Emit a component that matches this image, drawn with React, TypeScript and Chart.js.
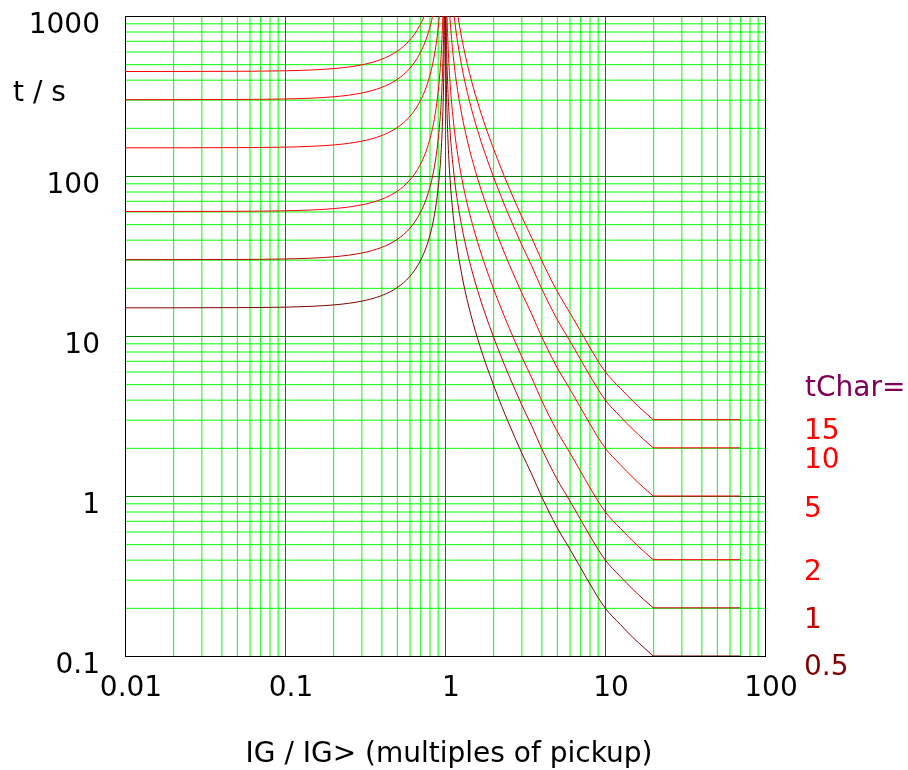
import React, { useEffect, useRef } from "react";
import { Chart, registerables } from "chart.js";

Chart.register(...registerables);

// IG / IG> (multiples of pickup); the last two points form the flat tail (20 .. 70)
const IG = [
  0.01, 0.02, 0.05, 0.1, 0.15, 0.2, 0.25, 0.3, 0.35, 0.4, 0.45, 0.5, 0.55, 0.6, 0.65, 0.7, 0.75, 0.8, 0.85, 0.9, 0.93,
  0.95, 0.97, 0.98, 0.99, 0.995, 1.005, 1.01, 1.02, 1.03, 1.05, 1.08, 1.1, 1.15, 1.2, 1.3, 1.4, 1.5, 1.6, 1.7, 1.8, 2,
  2.25, 2.5, 3, 3.5, 4, 5, 6, 7, 8, 10, 12.5, 15, 17.5, 20, 70,
];

// t / s for each tChar
const T_05 = [
  15.0, 15.0, 15.04, 15.15, 15.35, 15.63, 16.0, 16.49, 17.1, 17.86, 18.81, 20, 21.5, 23.44, 25.97, 29.41, 34.29, 41.67,
  54.05, 78.95, 111.0, 153.8, 253.8, 378.8, 753.8, 1504, 1496, 746.3, 371.3, 246.3, 146.3, 90.2, 71.4, 46.5, 34.1,
  21.75, 15.63, 12.0, 9.62, 7.94, 6.7, 5.0, 3.69, 2.86, 1.88, 1.355, 1.0, 0.64, 0.47, 0.36, 0.285, 0.2, 0.157, 0.13,
  0.113, 0.1, 0.1,
];
const T_1 = [
  30.0, 30.01, 30.08, 30.3, 30.69, 31.25, 32.0, 32.97, 34.19, 35.71, 37.62, 40, 43.01, 46.88, 51.95, 58.82, 68.57,
  83.33, 108.1, 157.9, 222.1, 307.7, 507.6, 757.6, 1507, 3008, 2993, 1493, 742.6, 492.6, 292.7, 180.3, 142.9, 93.0,
  68.2, 43.5, 31.25, 24.0, 19.23, 15.87, 13.39, 10.0, 7.38, 5.71, 3.76, 2.71, 2.0, 1.28, 0.94, 0.72, 0.57, 0.4, 0.313,
  0.26, 0.225, 0.2, 0.2,
];
const T_2 = [
  60.0, 60.02, 60.16, 60.6, 61.38, 62.5, 64.0, 65.94, 68.38, 71.42, 75.24, 80, 86.02, 93.76, 103.9, 117.6, 137.1,
  166.7, 216.2, 315.8, 444.2, 615.4, 1015, 1515, 3015, 6015, 5985, 2985, 1485, 985.2, 585.4, 360.6, 285.8, 186.0,
  136.4, 87.0, 62.5, 48.0, 38.46, 31.74, 26.78, 20.0, 14.76, 11.42, 7.52, 5.42, 4.0, 2.56, 1.88, 1.44, 1.14, 0.8,
  0.626, 0.52, 0.45, 0.4, 0.4,
];
const T_5 = [
  150.0, 150.05, 150.4, 151.5, 153.45, 156.25, 160.0, 164.85, 170.95, 178.55, 188.1, 200, 215.05, 234.4, 259.75,
  294.1, 342.85, 416.65, 540.5, 789.5, 1110.5, 1538.5, 2538, 3788, 7538, 15038, 14963, 7463, 3713, 2463, 1463.5,
  901.5, 714.5, 465, 341, 217.5, 156.25, 120, 96.15, 79.35, 66.95, 50, 36.9, 28.55, 18.8, 13.55, 10, 6.4, 4.7, 3.6,
  2.85, 2.0, 1.565, 1.3, 1.125, 1.0, 1.0,
];
const T_10 = [
  300, 300.1, 300.8, 303, 306.9, 312.5, 320.0, 329.7, 341.9, 357.1, 376.2, 400, 430.1, 468.8, 519.5, 588.2, 685.7,
  833.3, 1081, 1579, 2221, 3077, 5076, 7576, 15075, 30075, 29925, 14925, 7426, 4926, 2927, 1803, 1429, 930, 682, 435,
  312.5, 240, 192.3, 158.7, 133.9, 100, 73.8, 57.1, 37.6, 27.1, 20, 12.8, 9.4, 7.2, 5.7, 4.0, 3.13, 2.6, 2.25, 2.0,
  2.0,
];
const T_15 = [
  450, 450.15, 451.2, 454.5, 460.35, 468.75, 480.0, 494.55, 512.85, 535.65, 564.3, 600, 645.15, 703.2, 779.25, 882.3,
  1028.6, 1250, 1621.5, 2368.5, 3331.5, 4615.5, 7614, 11364, 22613, 45113, 44888, 22388, 11139, 7389, 4390.5, 2704.5,
  2143.5, 1395, 1023, 652.5, 468.75, 360, 288.45, 238.05, 200.85, 150, 110.7, 85.65, 56.4, 40.65, 30, 19.2, 14.1,
  10.8, 8.55, 6.0, 4.695, 3.9, 3.375, 3.0, 3.0,
];

const SERIES = [T_05, T_1, T_2, T_5, T_10, T_15];
const T_CHAR = ["0.5", "1", "2", "5", "10", "15"];
const CURVE_COLORS = ["#800000", "#c00000", "#ff0000", "#ff0000", "#ff0000", "#ff0000"];
const LABEL_COLORS = ["#800000", "#c00000", "#ff0000", "#ff0000", "#ff0000", "#ff0000"];
const LABEL_BASELINES = [675, 628, 580, 517, 468, 439];

const X_DECADES = [0.01, 0.1, 1, 10];
const Y_DECADES = [0.1, 1, 10, 100];
const MULTS = [1, 2, 3, 4, 5, 6, 7, 8, 9];

const buildTicks = (decades: number[], last: number) => {
  const out: number[] = [];
  decades.forEach((d) => MULTS.forEach((m) => out.push(Number((m * d).toPrecision(6)))));
  out.push(last);
  return out;
};
const X_TICKS = buildTicks(X_DECADES, 100);
const Y_TICKS = buildTicks(Y_DECADES, 1000);

const isDecade = (v: number) => Math.abs(Math.log10(v) - Math.round(Math.log10(v))) < 1e-9;
const FONT = "DejaVu Sans";

export default function App() {
  const ref = useRef<HTMLCanvasElement | null>(null);

  useEffect(() => {
    if (!ref.current) return;

    const gridPlugin = {
      id: "logGrid",
      beforeDatasetsDraw(chart: any) {
        const { ctx, chartArea: a, scales } = chart;
        const xs = scales.x;
        const ys = scales.y;
        ctx.save();
        ctx.lineWidth = 1;
        const drawSet = (major: boolean) => {
          ctx.strokeStyle = major ? "#008000" : "#00ff00";
          ctx.beginPath();
          X_TICKS.forEach((v) => {
            if (isDecade(v) !== major) return;
            const px = xs.getPixelForValue(v) + 0.5;
            ctx.moveTo(px, a.top);
            ctx.lineTo(px, a.bottom);
          });
          Y_TICKS.forEach((v) => {
            if (isDecade(v) !== major) return;
            const py = ys.getPixelForValue(v) + 0.5;
            ctx.moveTo(a.left, py);
            ctx.lineTo(a.right, py);
          });
          ctx.stroke();
        };
        drawSet(false);
        drawSet(true);
        ctx.strokeStyle = "#000";
        ctx.strokeRect(Math.round(a.left) + 0.5, Math.round(a.top) + 0.5, Math.round(a.right - a.left), Math.round(a.bottom - a.top));
        ctx.restore();
      },
    };

    const textPlugin = {
      id: "texts",
      afterDraw(chart: any) {
        const ctx = chart.ctx;
        ctx.save();
        ctx.font = `28px "${FONT}"`;
        ctx.textBaseline = "alphabetic";
        ctx.textAlign = "left";
        ctx.fillStyle = "#000";
        ctx.fillText("t / s", 13, 101);
        ctx.textAlign = "center";
        ctx.fillText("IG / IG> (multiples of pickup)", 449, 762);
        ctx.textAlign = "left";
        ctx.fillStyle = "#800055";
        ctx.fillText("tChar=", 805, 396);
        T_CHAR.forEach((t, i) => {
          ctx.fillStyle = LABEL_COLORS[i];
          ctx.fillText(t, 804, LABEL_BASELINES[i]);
        });
        ctx.restore();
      },
    };

    const n = IG.length;
    const curveSets = SERIES.map((s, i) => ({
      label: T_CHAR[i],
      data: IG.slice(0, n - 1).map((x, j) => ({ x, y: s[j] })),
      borderColor: CURVE_COLORS[i],
      borderWidth: 1,
      pointRadius: 0,
      cubicInterpolationMode: "monotone" as const,
      fill: false,
    }));
    const tailSets = SERIES.map((s, i) => ({
      label: T_CHAR[i] + " tail",
      data: IG.slice(n - 2).map((x, j) => ({ x, y: s[n - 2 + j] })),
      borderColor: CURVE_COLORS[i],
      borderWidth: 1,
      pointRadius: 0,
      tension: 0,
      fill: false,
    }));

    const tickFont = { family: FONT, size: 28 };

    const chart = new Chart(ref.current, {
      type: "line",
      data: { datasets: [...curveSets, ...tailSets] },
      options: {
        animation: false,
        responsive: false,
        devicePixelRatio: 1,
        layout: { padding: { top: 16, right: 143, left: 0, bottom: 0 } },
        plugins: { legend: { display: false }, tooltip: { enabled: false } },
        scales: {
          x: {
            type: "logarithmic",
            min: 0.01,
            max: 100,
            afterBuildTicks: (s: any) => {
              s.ticks = X_TICKS.map((v) => ({ value: v }));
            },
            afterFit: (s: any) => {
              s.height = 114;
              s.paddingLeft = 0;
              s.paddingRight = 0;
            },
            grid: { display: false, drawTicks: false },
            border: { display: false },
            ticks: {
              autoSkip: false,
              maxRotation: 0,
              minRotation: 0,
              padding: 16,
              labelOffset: 6,
              color: "#000",
              font: tickFont,
              callback: (v: any) => (isDecade(Number(v)) ? String(Number(v)) : ""),
            },
          },
          y: {
            type: "logarithmic",
            min: 0.1,
            max: 1000,
            afterBuildTicks: (s: any) => {
              s.ticks = Y_TICKS.map((v) => ({ value: v }));
            },
            afterFit: (s: any) => {
              s.width = 125;
              s.paddingTop = 0;
              s.paddingBottom = 0;
            },
            grid: { display: false, drawTicks: false },
            border: { display: false },
            ticks: {
              autoSkip: false,
              padding: 25,
              labelOffset: 10,
              color: "#000",
              font: tickFont,
              callback: (v: any) => (isDecade(Number(v)) ? String(Number(v)) : ""),
            },
          },
        },
      },
      plugins: [gridPlugin, textPlugin],
    });
    return () => chart.destroy();
  }, []);

  return (
    <div style={{ position: "absolute", left: 0, top: 0, width: 908, height: 770, background: "#fff" }}>
      <canvas ref={ref} width={908} height={770} style={{ display: "block", width: 908, height: 770 }} />
    </div>
  );
}
